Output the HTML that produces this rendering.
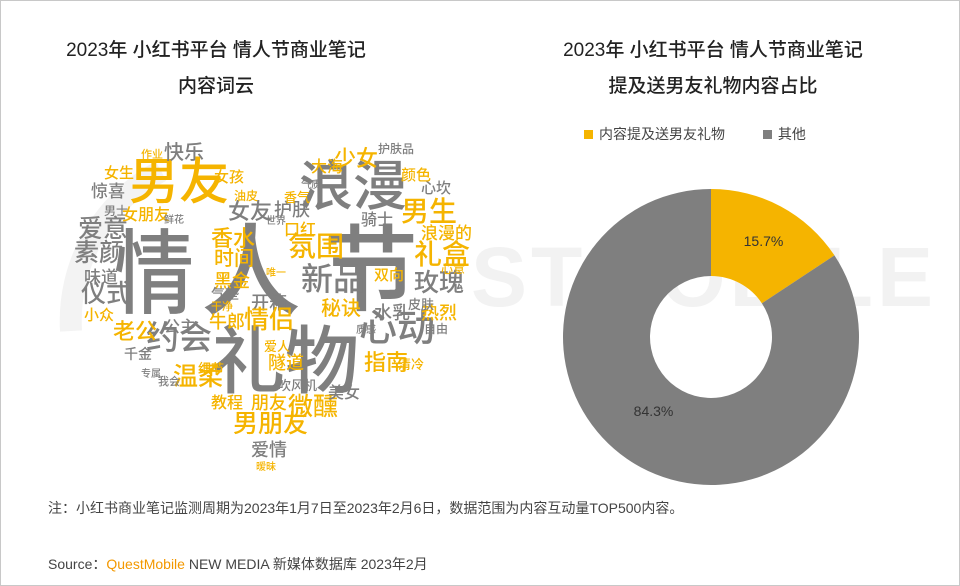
<!DOCTYPE html>
<html><head><meta charset="utf-8">
<style>
body{margin:0;background:#fff;}
#page{position:relative;width:958px;height:584px;border:1px solid #c8c8c8;overflow:hidden;font-family:"Liberation Sans","Noto Sans CJK SC",sans-serif;background:#fff;}
.t{position:absolute;font-size:19px;color:#222;text-align:center;width:420px;line-height:36px;font-weight:500;}
.w{position:absolute;white-space:nowrap;line-height:1;font-family:"Noto Sans CJK SC",sans-serif;font-weight:500;}
.g{color:#7f7f7f}.y{color:#f5b400}
.wm{position:absolute;left:470px;top:228px;font-size:84px;color:#f2f2f2;font-weight:bold;letter-spacing:4px;}
</style></head><body>
<div id="page">
<div class="wm">STMOBILE</div>
<svg style="position:absolute;left:0;top:0" width="958" height="584"><path d="M70 330 A170 170 0 0 1 160 170" fill="none" stroke="#f3f3f3" stroke-width="22"/></svg>
<div class="t" style="left:5px;top:32px">2023年 小红书平台 情人节商业笔记<br>内容词云</div>
<div class="t" style="left:502px;top:32px">2023年 小红书平台 情人节商业笔记<br>提及送男友礼物内容占比</div>
<div id="cloud"></div>
<div style="position:absolute;left:583px;top:123px;font-size:14px;color:#444;">
<span><span style="display:inline-block;width:9px;height:9px;background:#f5b400;margin-right:6px"></span>内容提及送男友礼物</span>
<span style="margin-left:34px"><span style="display:inline-block;width:9px;height:9px;background:#7f7f7f;margin-right:6px"></span>其他</span>
</div>
<svg id="donut" style="position:absolute;left:0;top:0" width="958" height="584"></svg>
<div style="position:absolute;left:47px;top:497px;font-size:14px;color:#444">注：小红书商业笔记监测周期为2023年1月7日至2023年2月6日，数据范围为内容互动量TOP500内容。</div>
<div style="position:absolute;left:47px;top:553px;font-size:14px;color:#444">Source：<span style="color:#f39800">QuestMobile</span> NEW MEDIA 新媒体数据库 2023年2月</div>
</div>
<script>
const categories=["内容提及送男友礼物","其他"];
const values=[15.7,84.3];
const labels=["15.7%","84.3%"];
const colors=["#f5b400","#7f7f7f"];
const svg=document.getElementById('donut');const NS="http://www.w3.org/2000/svg";
const cx=710,cy=336,R=148,r=61;
const total=values.reduce((a,b)=>a+b,0);
let a0=0;
values.forEach((v,i)=>{
 const a1=a0+v/total*2*Math.PI;
 const p=(a,rad)=>[cx+rad*Math.sin(a),cy-rad*Math.cos(a)];
 const big=(a1-a0)>Math.PI?1:0;
 const [x1,y1]=p(a0,R),[x2,y2]=p(a1,R),[x3,y3]=p(a1,r),[x4,y4]=p(a0,r);
 const path=document.createElementNS(NS,'path');
 path.setAttribute('d',`M${x1} ${y1}A${R} ${R} 0 ${big} 1 ${x2} ${y2}L${x3} ${y3}A${r} ${r} 0 ${big} 0 ${x4} ${y4}Z`);
 path.setAttribute('fill',colors[i]);
 
 
 svg.appendChild(path);
 const am=(a0+a1)/2;const lr=(R+r)/2;
 const [lx,ly]=p(am,lr);
 const t=document.createElementNS(NS,'text');
 t.setAttribute('x',i==0?lx+3:lx-8);t.setAttribute('y',i==0?ly+1:ly-13);
 t.setAttribute('text-anchor','middle');t.setAttribute('font-size','14');t.setAttribute('fill','#333');
 t.setAttribute('font-family','Liberation Sans, sans-serif');
 t.textContent=labels[i];
 
 
 svg.appendChild(t);
 a0=a1;
});
const words=[
["情",113,220,80,"g"],["人",200,213,100,"g"],["节",323,215,94,"g"],["礼物",210,318,74,"g"],
["男友",128,152,50,"y"],["浪漫",298,154,54,"g"],["约会",145,318,33,"g"],["心动",358,305,38,"g"],
["快乐",163,140,20,"g"],["女生",103,164,15,"y"],["惊喜",90,180,17,"g"],["作业",140,148,11,"y"],
["女孩",213,168,15,"y"],["女友",227,198,22,"g"],["男士",103,204,12,"g"],["女朋友",121,204,16,"y"],
["爱意",77,214,25,"g"],["素颜",73,238,25,"g"],["味道",83,266,17,"g"],["仪式",80,279,25,"g"],
["小众",83,306,15,"y"],["老公",112,318,22,"y"],["香水",210,225,22,"y"],["时间",213,246,20,"y"],
["黑金",213,270,18,"y"],["开箱",250,292,18,"g"],["牛郎",208,311,18,"y"],["情侣",243,305,25,"y"],
["公主",163,316,16,"g"],["温柔",172,362,25,"y"],["细节",197,360,13,"y"],["教程",210,392,16,"y"],
["朋友",250,392,18,"y"],["男朋友",232,409,25,"y"],["爱情",250,439,18,"g"],["微醺",287,392,25,"y"],
["美女",327,382,16,"g"],["吹风机",277,377,13,"g"],["隧道",267,352,18,"y"],["指南",363,349,22,"y"],
["热烈",420,302,18,"y"],["水乳",373,302,18,"g"],["秘诀",320,296,20,"y"],["玫瑰",413,268,25,"g"],
["新品",300,260,32,"g"],["氛围",287,230,28,"y"],["礼盒",413,238,28,"y"],["浪漫的",420,222,17,"y"],
["男生",400,195,28,"y"],["骑士",360,209,16,"g"],["心坎",420,179,15,"g"],["颜色",400,166,15,"y"],
["少女",333,145,22,"y"],["大海",310,156,16,"y"],["护肤品",377,142,12,"g"],["护肤",273,199,18,"g"],
["口红",283,219,16,"y"],["香气",283,189,13,"y"],["双向",373,266,15,"y"],["心意",440,262,12,"y"],
["皮肤",407,296,13,"g"],["自由",423,322,12,"g"],["清冷",397,356,13,"y"],["千金",123,346,14,"g"],
["气垫",210,286,14,"g"],["干净",210,300,11,"y"],["爱人",263,338,13,"y"],["油皮",233,189,12,"y"],
["世界",265,214,10,"g"],["气质",300,178,10,"g"],["鲜花",163,213,10,"g"],["唯一",265,266,10,"y"],
["我会",157,375,11,"g"],["暧昧",255,460,10,"y"],["专属",140,367,10,"g"],["质感",355,323,10,"g"]
];
const cloud=document.getElementById('cloud');
words.forEach((w,i)=>{
 const d=document.createElement('div');
 d.className='w '+w[4];
 d.style.left=w[1]+'px';d.style.top=w[2]+'px';d.style.fontSize=w[3]+'px';
 if(i===0){d.style.transform='scaleY(1.15)';d.style.transformOrigin='top left';}
 d.textContent=w[0];
 
 
 cloud.appendChild(d);
});
</script>
</body></html>
